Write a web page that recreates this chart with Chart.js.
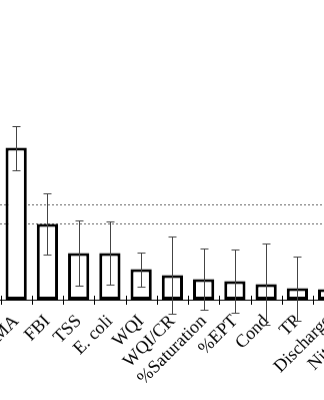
<!DOCTYPE html>
<html>
<head>
<meta charset="utf-8">
<script src="https://cdn.jsdelivr.net/npm/chart.js@4"></script>
<style>
  html, body { margin: 0; padding: 0; background: #fff; overflow: hidden; width: 324px; height: 400px; }
  #marco { position: absolute; left: 0; top: 0; width: 500px; height: 420px; }
</style>
</head>
<body>
<div id="marco"><canvas id="grafica"></canvas></div>
<script>
// Variables y su importancia media con la desviación
var etiquetas = ['IBMA', 'FBI', 'TSS', 'E. coli', 'WQI', 'WQI/CR', '%Saturation', '%EPT', 'Cond', 'TP', 'Discharge', 'Nitrate-N'];
var valores = [7.97, 3.97, 2.45, 2.45, 1.6, 1.29, 1.08, 0.97, 0.82, 0.6, 0.55, 0.47];
var desviacion = [1.16, 1.6, 1.7, 1.65, 0.9, 2.02, 1.62, 1.68, 2.12, 1.68, 1.16, 1.1];
// Líneas de referencia punteadas
var umbrales = [5, 4];

var anchoCategoria = 31.2;   // px por categoría
var pxPorUnidad = 19;        // px por unidad en el eje Y
var maxY = 10;

// Líneas punteadas detrás de las barras
var lineasUmbral = {
  id: 'lineasUmbral',
  beforeDatasetsDraw: function(chart) {
    var ctx = chart.ctx;
    var y = chart.scales.y;
    ctx.save();
    ctx.strokeStyle = '#666';
    ctx.lineWidth = 1;
    ctx.setLineDash([2, 2]);
    umbrales.forEach(function(u) {
      var py = Math.round(y.getPixelForValue(u)) + 0.5;
      ctx.beginPath();
      ctx.moveTo(0, py);
      ctx.lineTo(chart.width, py);
      ctx.stroke();
    });
    ctx.restore();
  }
};

// Barras de error y marcas del eje X
var barrasError = {
  id: 'barrasError',
  afterDatasetsDraw: function(chart) {
    var ctx = chart.ctx;
    var y = chart.scales.y;
    var x = chart.scales.x;
    var meta = chart.getDatasetMeta(0);
    ctx.save();
    ctx.strokeStyle = '#444';
    ctx.lineWidth = 1;
    meta.data.forEach(function(bar, i) {
      var px = Math.round(bar.x) + 0.5;
      var arriba = Math.round(y.getPixelForValue(valores[i] + desviacion[i])) + 0.5;
      var abajo = Math.round(y.getPixelForValue(valores[i] - desviacion[i])) + 0.5;
      ctx.beginPath();
      ctx.moveTo(px, arriba);
      ctx.lineTo(px, abajo);
      ctx.moveTo(px - 4, arriba);
      ctx.lineTo(px + 4, arriba);
      ctx.moveTo(px - 4, abajo);
      ctx.lineTo(px + 4, abajo);
      ctx.stroke();
    });
    // marcas cruzando el eje entre categorías
    ctx.strokeStyle = '#000';
    var base = chart.chartArea.bottom;
    var paso = x.width / etiquetas.length;
    for (var k = 0; k <= etiquetas.length; k++) {
      var mx = Math.round(x.left + k * paso) + 0.5;
      ctx.beginPath();
      ctx.moveTo(mx, base - 4);
      ctx.lineTo(mx, base + 5);
      ctx.stroke();
    }
    ctx.restore();
  }
};

var ctx = document.getElementById('grafica').getContext('2d');
var myChart = new Chart(ctx, {
  type: 'bar',
  data: {
    labels: etiquetas,
    datasets: [{
      data: valores,
      backgroundColor: '#fff',
      borderColor: '#000',
      borderWidth: 3,
      borderSkipped: false,
      categoryPercentage: 1,
      barPercentage: 0.68
    }]
  },
  options: {
    responsive: true,
    maintainAspectRatio: false,
    animation: false,
    plugins: { legend: { display: false }, tooltip: { enabled: false } },
    layout: { padding: 0 },
    scales: {
      x: {
        grid: { display: false },
        border: { display: true, color: '#000', width: 1 },
        ticks: {
          color: '#000',
          padding: 3,
          autoSkip: false,
          minRotation: 45,
          maxRotation: 45,
          font: { family: 'Liberation Serif', size: 18 }
        }
      },
      y: {
        display: false,
        min: 0,
        max: maxY
      }
    }
  },
  plugins: [lineasUmbral, barrasError]
});

// Ajustar tamaño y posición para que la escala quede a 31.2 px por categoría
function ajustar() {
  var marco = document.getElementById('marco');
  var area = myChart.chartArea;
  var w = myChart.width + (anchoCategoria * etiquetas.length - (area.right - area.left));
  var h = myChart.height + (pxPorUnidad * maxY - (area.bottom - area.top));
  marco.style.width = w + 'px';
  marco.style.height = h + 'px';
  myChart.resize();
  area = myChart.chartArea;
  marco.style.left = (0.4 - area.left) + 'px';
  marco.style.top = (299.5 - area.bottom) + 'px';
}
ajustar();
ajustar();
</script>
</body>
</html>
